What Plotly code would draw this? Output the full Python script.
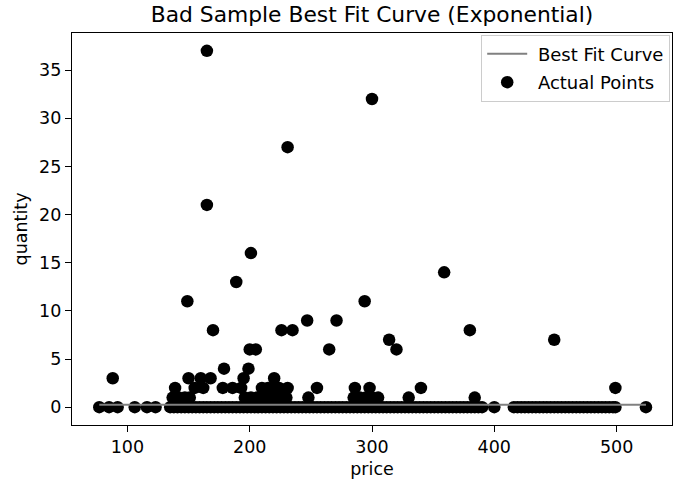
import plotly.graph_objects as go

# ---- data ----
nonzero_price = [88, 150, 160, 168, 195, 220,
                 139, 155, 162, 178, 186, 193, 210, 215, 220, 224, 231, 255, 286, 298, 340, 499,
                 137, 142, 147, 151, 196, 201, 206, 211, 216, 221, 226, 230, 248, 285, 290, 295, 300, 305, 330, 384,
                 179, 199,
                 200, 205, 265, 320,
                 314, 449,
                 170, 226, 235, 380,
                 247, 271,
                 149, 294,
                 189, 359, 201, 165, 231, 300, 165]
nonzero_qty = [3, 3, 3, 3, 3, 3,
               2, 2, 2, 2, 2, 2, 2, 2, 2, 2, 2, 2, 2, 2, 2, 2,
               1, 1, 1, 1, 1, 1, 1, 1, 1, 1, 1, 1, 1, 1, 1, 1, 1, 1, 1, 1,
               4, 4,
               6, 6, 6, 6,
               7, 7,
               8, 8, 8, 8,
               9, 9,
               11, 11,
               13, 14, 16, 21, 27, 32, 37]
zero_price = [77, 85, 92, 106, 116, 123,
              135, 138, 141, 144, 147, 150, 153, 156, 159, 162, 165, 168, 171, 174, 177, 180,
              183, 186, 189, 192, 195, 198, 201, 204, 207, 210, 213, 216, 219, 222, 225, 228,
              231, 234, 237, 240, 243, 246, 249, 252, 255, 258, 261, 264, 267, 270, 273, 276,
              279, 282, 285, 288, 291, 294, 297, 300, 303, 306, 309, 312, 315, 318, 321, 324,
              327, 330, 333, 336, 339, 342, 345, 348, 351, 354, 357, 360, 363, 366, 369, 372,
              375, 378, 381, 384, 387, 390,
              400, 416, 419, 422, 425, 428, 431, 434, 437, 440, 443, 446, 449, 452, 455, 458,
              461, 464, 467, 470, 473, 476, 479, 482, 485, 488, 491, 494, 497, 499, 524]
zero_qty = [0] * len(zero_price)

fit_price = [77, 150, 250, 350, 450, 524]
fit_qty = [0.25, 0.25, 0.25, 0.25, 0.25, 0.25]

x_ticks = [100, 200, 300, 400, 500]
y_ticks = [0, 5, 10, 15, 20, 25, 30, 35]

price = zero_price + nonzero_price
qty = zero_qty + nonzero_qty

FONT = "DejaVu Sans"
FS = 17.5
NB = "\u00a0"

fig = go.Figure()
fig.add_trace(go.Scatter(
    x=price, y=qty, mode="markers", name=NB + "Actual Points",
    marker=dict(color="black", size=12.5, line=dict(width=0)),
    legendrank=2, legendgroup="pts",
))
fig.add_trace(go.Scatter(
    x=fit_price, y=fit_qty, mode="lines", name=NB + "Best Fit Curve",
    line=dict(color="#808080", width=2.2),
    legendrank=1, legendgroup="fit",
))

axis_common = dict(
    showgrid=False, zeroline=False, showline=True, linecolor="black", linewidth=1.3,
    mirror=True, ticks="outside", ticklen=6, tickwidth=1.3, tickcolor="black",
    tickfont=dict(family=FONT, size=FS, color="black"),
)
fig.update_xaxes(range=[54.7, 545.3], tickvals=x_ticks,
                 title=dict(text="price", font=dict(family=FONT, size=FS, color="black"), standoff=6),
                 **axis_common)
fig.update_yaxes(range=[-1.85, 38.85], tickvals=y_ticks,
                 title=dict(text="quantity", font=dict(family=FONT, size=FS, color="black"), standoff=6),
                 **axis_common)

fig.update_layout(
    width=677, height=481,
    margin=dict(l=72, r=5, t=33, b=56),
    paper_bgcolor="white", plot_bgcolor="white",
    title=dict(text="Bad Sample Best Fit Curve (Exponential)", x=0.5, xref="paper",
               y=1 - 14 / 481, yref="container", yanchor="middle", xanchor="center",
               font=dict(family=FONT, size=21.8, color="black")),
    legend=dict(x=0.997, xanchor="right", y=0.996, yanchor="top",
                bgcolor="white", bordercolor="#cccccc", borderwidth=1,
                font=dict(family=FONT, size=18, color="black"),
                itemwidth=40, tracegroupgap=2),
    showlegend=True,
)

fig.write_html("out.html")
